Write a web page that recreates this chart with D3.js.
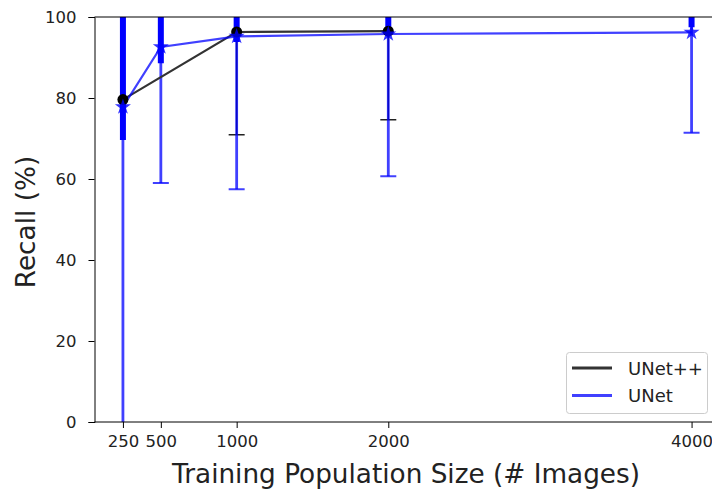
<!DOCTYPE html>
<html><head><meta charset="utf-8">
<script src="https://cdn.jsdelivr.net/npm/d3@7"></script>
<style>body{margin:0;background:#fff;} svg{display:block;font-family:"DejaVu Sans",sans-serif;}</style>
</head><body><svg id="c" width="712" height="489"></svg>
<script>
const xTicks = [250, 500, 1000, 2000, 4000];
const yTicks = [0, 20, 40, 60, 80, 100];
// UNet++ (black)
const unetppX = [250, 1000, 2000];
const unetppMean = [79.6, 96.3, 96.5];
const unetppLow = [79.6, 70.9, 74.6];
const unetppHigh = [110, 110, 110];
// UNet (blue)
const unetX = [250, 500, 1000, 2000, 4000];
const unetMean = [77.8, 92.6, 95.2, 95.8, 96.2];
const unetLow = [-10, 59.0, 57.5, 60.7, 71.4];
const unetHigh = [110, 110, 110, 110, 110];
const unetInnerLow = [69.6, 88.6, 93.8, 96.8, 97.5];
const legendLabels = ["UNet++", "UNet"];

const svg = d3.select("#c");
const x = d3.scaleLinear().domain([62.5, 4187.5]).range([94.5, 720]);
const y = d3.scaleLinear().domain([0, 100]).range([422, 17]);

const defs = svg.append("defs");
defs.append("clipPath").attr("id","clip").append("rect")
  .attr("x", 94.5).attr("y", 17).attr("width", 640).attr("height", 405);

const g = svg.append("g").attr("clip-path","url(#clip)");

// UNet++ error bars
unetppX.forEach((v,i)=>{
  g.append("line").attr("x1",x(v)).attr("x2",x(v)).attr("y1",y(unetppLow[i])).attr("y2",y(unetppHigh[i]))
    .attr("stroke","#222").attr("stroke-width",1.5);
  if (unetppLow[i] < unetppMean[i]) {
    g.append("line").attr("x1",x(v)-8).attr("x2",x(v)+8).attr("y1",y(unetppLow[i])).attr("y2",y(unetppLow[i]))
      .attr("stroke","#222").attr("stroke-width",1.5);
  }
});

// UNet error bars
unetX.forEach((v,i)=>{
  g.append("line").attr("x1",x(v)).attr("x2",x(v)).attr("y1",y(unetLow[i])).attr("y2",y(unetHigh[i]))
    .attr("stroke","rgba(0,0,255,0.75)").attr("stroke-width",2.8);
  g.append("line").attr("x1",x(v)-8).attr("x2",x(v)+8).attr("y1",y(unetLow[i])).attr("y2",y(unetLow[i]))
    .attr("stroke","rgba(0,0,255,0.75)").attr("stroke-width",2);
  g.append("line").attr("x1",x(v)).attr("x2",x(v)).attr("y1",y(unetInnerLow[i])).attr("y2",y(unetHigh[i]))
    .attr("stroke","#0000ff").attr("stroke-width",6);
});

// lines
const line = d3.line().x(d=>x(d[0])).y(d=>y(d[1]));
g.append("path").datum(unetppX.map((v,i)=>[v,unetppMean[i]])).attr("d",line)
  .attr("fill","none").attr("stroke","#333").attr("stroke-width",2.2);
g.append("path").datum(unetX.map((v,i)=>[v,unetMean[i]])).attr("d",line)
  .attr("fill","none").attr("stroke","rgba(0,0,255,0.75)").attr("stroke-width",2.2);

// markers
unetppX.forEach((v,i)=>{
  g.append("circle").attr("cx",x(v)).attr("cy",y(unetppMean[i])).attr("r",5.5).attr("fill","#000");
});
const star = d3.symbol().type(d3.symbolStar).size(80);
unetX.forEach((v,i)=>{
  g.append("path").attr("d",star).attr("transform",`translate(${x(v)},${y(unetMean[i])})`)
    .attr("fill","rgba(0,0,255,0.8)");
});

// axes
const xAxis = svg.append("g").attr("transform","translate(0,422)")
  .call(d3.axisBottom(x).tickValues(xTicks).tickFormat(d3.format("d")).tickSize(6).tickPadding(7));
const yAxis = svg.append("g").attr("transform","translate(94.5,0)")
  .call(d3.axisLeft(y).tickValues(yTicks).tickSize(6).tickPadding(12));
[xAxis,yAxis].forEach(a=>{
  a.select(".domain").attr("stroke","#000").attr("stroke-width",1);
  a.selectAll(".tick line").attr("stroke","#000");
  a.selectAll("text").attr("font-size",16.5).attr("fill","#222").attr("font-family","DejaVu Sans");
});
xAxis.select(".domain").attr("d","M94.5,0H712");
svg.append("line").attr("x1",94.5).attr("x2",712).attr("y1",17).attr("y2",17).attr("stroke","#000").attr("stroke-width",1);

// axis labels
svg.append("text").attr("x",406).attr("y",483).attr("text-anchor","middle")
  .attr("font-size",26.3).attr("fill","#222").text("Training Population Size (# Images)");
svg.append("text").attr("transform","translate(35,222) rotate(-90)").attr("text-anchor","middle")
  .attr("font-size",26.3).attr("fill","#222").text("Recall (%)");

// legend
const lg = svg.append("g");
lg.append("rect").attr("x",566.5).attr("y",352.5).attr("width",141).attr("height",61).attr("rx",3)
  .attr("fill","#fff").attr("stroke","#ccc").attr("stroke-width",1);
const legColors = ["#333","rgba(0,0,255,0.75)"];
legendLabels.forEach((t,i)=>{
  const yy = 368 + i*27.5;
  lg.append("line").attr("x1",572).attr("x2",612).attr("y1",yy).attr("y2",yy)
    .attr("stroke",legColors[i]).attr("stroke-width",2.8);
  lg.append("text").attr("x",628).attr("y",yy+6.5).attr("font-size",18).attr("fill","#222").text(t);
});
</script></body></html>
